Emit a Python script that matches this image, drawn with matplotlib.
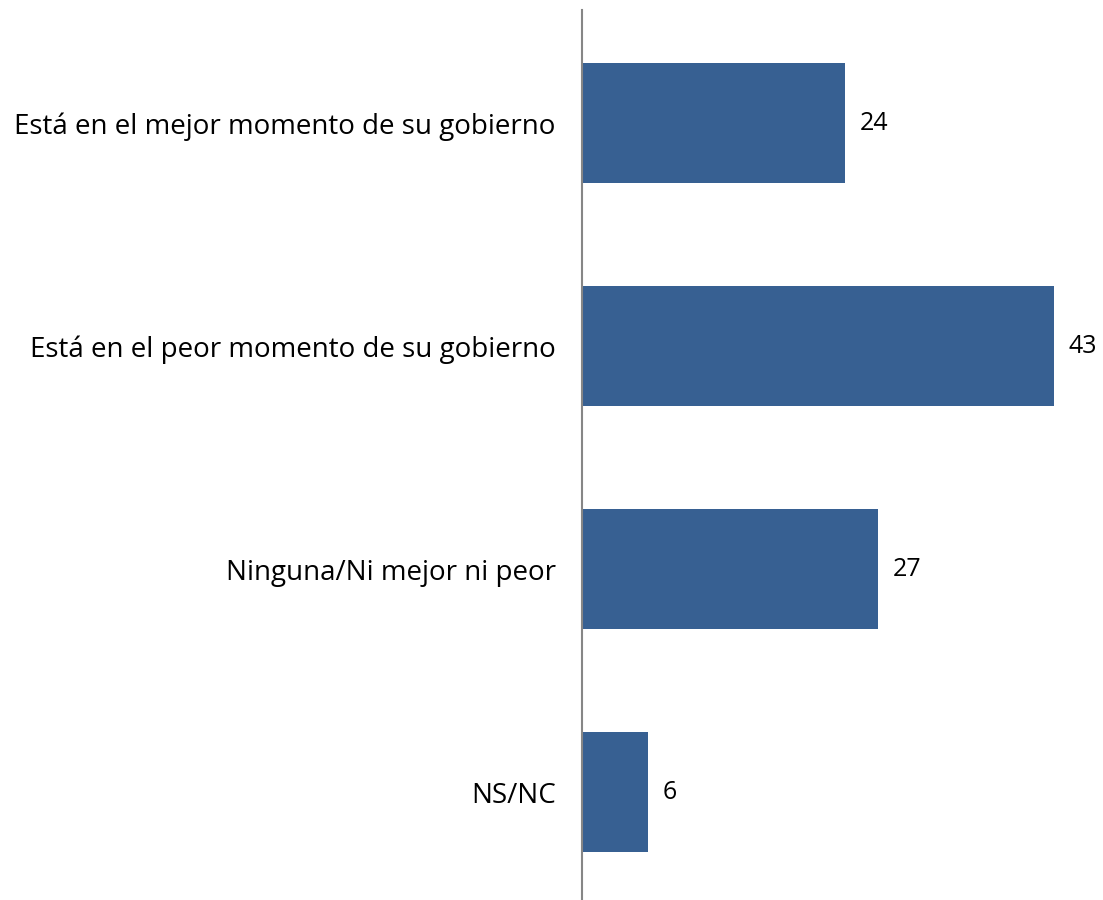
import matplotlib
matplotlib.use("Agg")
import matplotlib.pyplot as plt

categories = ["Está en el mejor momento de su gobierno",
              "Está en el peor momento de su gobierno",
              "Ninguna/Ni mejor ni peor",
              "NS/NC"]
values = [24, 43, 27, 6]

plt.rcParams['font.family'] = ['Open Sans', 'DejaVu Sans']

W, H = 1103, 900
fig = plt.figure(figsize=(W/100, H/100), dpi=100)
left = 582 / W
right = 1098 / W
bottom = (H - 900) / H
top = (H - 10) / H
ax = fig.add_axes([left, bottom, right - left, top - bottom])

ypos = list(range(len(categories)))
ax.barh(ypos, values, height=0.54, color='#376092')
ax.set_ylim(3.484, -0.507)
ax.set_xlim(0, 47)

for y, v in zip(ypos, values):
    ax.text(v + 1.3, y, str(v), va='center', ha='left', fontsize=18, color='black')

ax.set_yticks(ypos)
ax.set_yticklabels(categories, fontsize=20)
ax.tick_params(axis='y', length=0, pad=19)
ax.set_xticks([])
for s in ['top', 'right', 'bottom']:
    ax.spines[s].set_visible(False)
ax.spines['left'].set_color('#868686')
ax.spines['left'].set_linewidth(1.5)

fig.savefig('out.png', dpi=100)
